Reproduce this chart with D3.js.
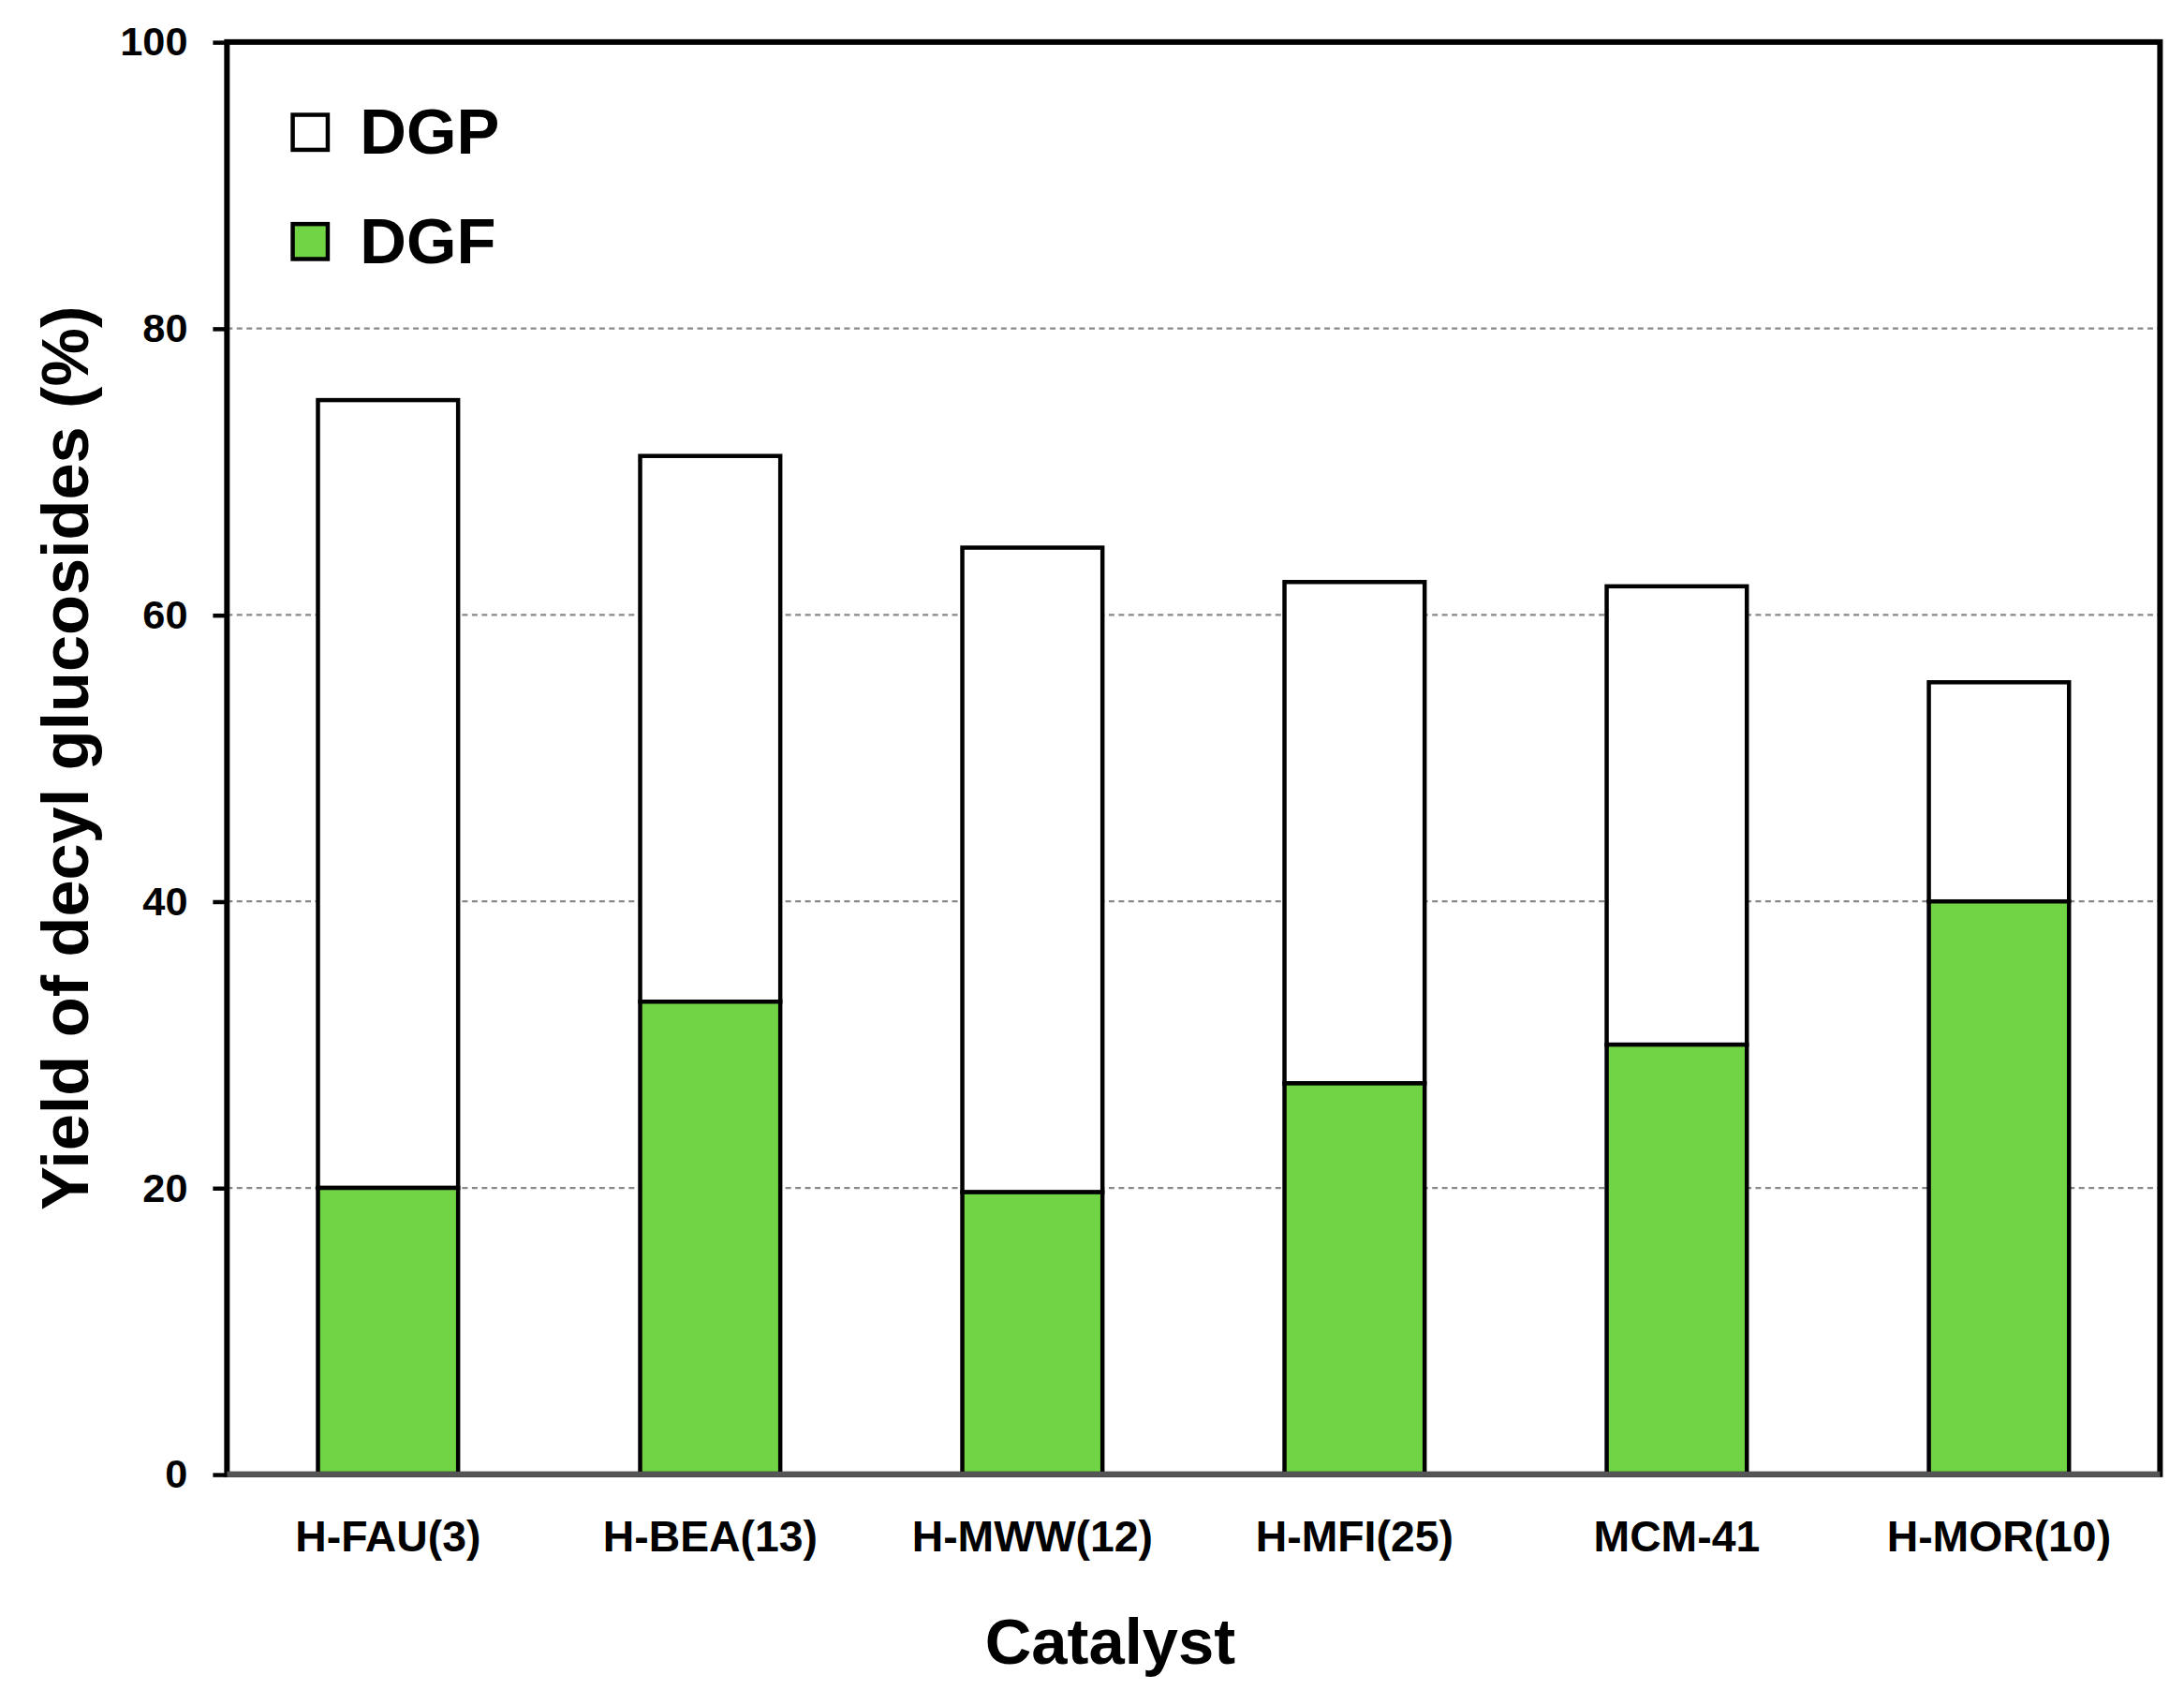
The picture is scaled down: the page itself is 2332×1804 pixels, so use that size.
<!DOCTYPE html>
<html>
<head>
<meta charset="utf-8">
<script src="https://cdn.jsdelivr.net/npm/d3@7"></script>
<style>
  body { margin: 0; background: #fff; }
  text { font-family: "Liberation Sans", Arial, sans-serif; font-weight: bold; }
</style>
</head>
<body>
<div id="chart"></div>
<script>
const catalysts = ["H-FAU(3)", "H-BEA(13)", "H-MWW(12)", "H-MFI(25)", "MCM-41", "H-MOR(10)"];
const dgf = [20, 33, 19.7, 27.3, 30, 40];
const total = [75, 71.1, 64.7, 62.3, 62, 55.3];
const yTicks = [0, 20, 40, 60, 80, 100];

const W = 1560, H = 1207;
const m = { left: 162, right: 17, top: 30, bottom: 154 };

const svg = d3.select("#chart").append("svg")
  .attr("width", 2332).attr("height", 1804)
  .attr("viewBox", "0 0 " + W + " " + H);

const x = d3.scaleBand().domain(catalysts)
  .range([m.left, W - m.right]).paddingInner(0.565).paddingOuter(0.2825);
const y = d3.scaleLinear().domain([0, 100]).range([H - m.bottom, m.top]);

// grid
svg.selectAll(".grid").data(yTicks.filter(function (d) { return d > 0 && d < 100; }))
  .enter().append("line")
  .attr("x1", m.left).attr("x2", W - m.right)
  .attr("y1", function (d) { return y(d); }).attr("y2", function (d) { return y(d); })
  .attr("stroke", "#888").attr("stroke-width", 1.5).attr("stroke-dasharray", "4,3");

// bars
let g = svg.selectAll(".bar").data(catalysts).enter().append("g");
g.append("rect")
  .attr("x", function (d) { return x(d); })
  .attr("width", x.bandwidth())
  .attr("y", function (d, i) { return y(total[i]); })
  .attr("height", function (d, i) { return y(dgf[i]) - y(total[i]); })
  .attr("fill", "#fff").attr("stroke", "#000").attr("stroke-width", 3);
g.append("rect")
  .attr("x", function (d) { return x(d); })
  .attr("width", x.bandwidth())
  .attr("y", function (d, i) { return y(dgf[i]); })
  .attr("height", function (d, i) { return y(0) - y(dgf[i]); })
  .attr("fill", "#70d444").attr("stroke", "#000").attr("stroke-width", 3);

// frame
svg.append("rect")
  .attr("x", m.left).attr("y", m.top)
  .attr("width", W - m.right - m.left).attr("height", y(0) - m.top)
  .attr("fill", "none").attr("stroke", "#000").attr("stroke-width", 4);
svg.append("line").attr("x1", m.left).attr("x2", W - m.right)
  .attr("y1", y(0)).attr("y2", y(0)).attr("stroke", "#555").attr("stroke-width", 4);

// y axis
let ya = svg.append("g").attr("transform", "translate(" + m.left + ",0)")
  .call(d3.axisLeft(y).tickValues(yTicks).tickSize(10).tickSizeOuter(0));
ya.select(".domain").remove();
ya.selectAll("line").attr("stroke", "#000").attr("stroke-width", 3).attr("x2", 0).attr("x1", -10);
ya.selectAll("text").attr("font-size", 29).attr("fill", "#000").attr("x", -28);

// x axis labels
svg.selectAll(".xl").data(catalysts).enter().append("text")
  .attr("x", function (d) { return x(d) + x.bandwidth() / 2; })
  .attr("y", y(0) + 55)
  .attr("text-anchor", "middle").attr("font-size", 31).text(function (d) { return d; });

svg.append("text").attr("x", 793).attr("y", 1188)
  .attr("text-anchor", "middle").attr("font-size", 46).text("Catalyst");
svg.append("text").attr("transform", "translate(63," + (m.top + y(0)) / 2 + ") rotate(-90)")
  .attr("text-anchor", "middle").attr("font-size", 47).text("Yield of decyl glucosides (%)");

// legend
const legend = [["DGP", "#fff"], ["DGF", "#70d444"]];
let lg = svg.selectAll(".lg").data(legend).enter().append("g")
  .attr("transform", function (d, i) { return "translate(209," + (82 + i * 78) + ")"; });
lg.append("rect").attr("width", 25).attr("height", 25)
  .attr("fill", function (d) { return d[1]; }).attr("stroke", "#000").attr("stroke-width", 3);
lg.append("text").attr("x", 48).attr("y", 28).attr("font-size", 46).text(function (d) { return d[0]; });
</script>
</body>
</html>
